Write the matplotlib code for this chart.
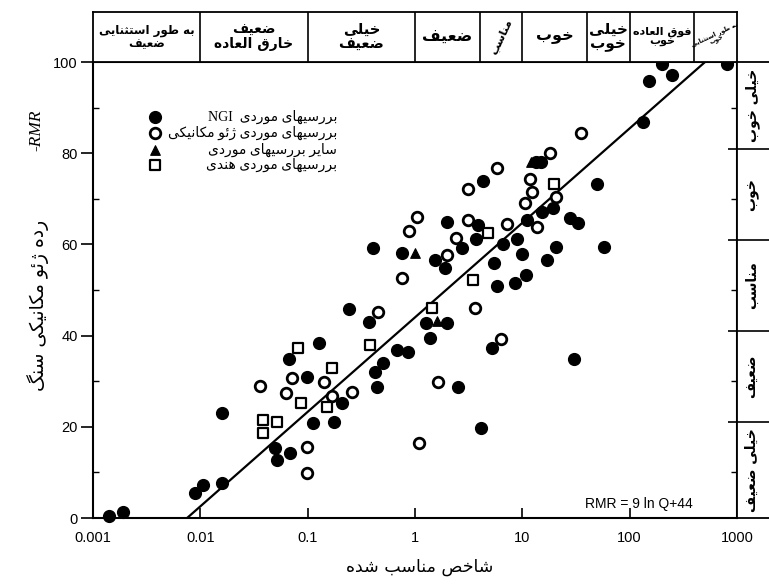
import numpy as np
import matplotlib
matplotlib.use("Agg")
from matplotlib import pyplot as plt
from matplotlib.ticker import NullLocator

# --- data ---
# NGI case records (filled circles)
ngi_q = [0.0014, 0.0019, 0.009, 0.0106, 0.016, 0.016, 0.05, 0.069, 0.052, 0.112,
         0.176, 0.21, 0.099, 0.067, 0.128, 0.243, 0.373, 0.41, 0.76, 0.68,
         0.86, 0.50, 0.42, 0.44, 1.27, 2.0, 1.38, 5.2, 2.5, 4.1,
         30, 1.54, 1.9, 2.0, 3.9, 3.7, 2.75, 4.3, 5.5, 5.8,
         8.6, 10.8, 6.6, 9.0, 10, 11.1, 17, 15.3, 19.4, 20.7,
         28, 33, 50, 58, 13.5, 15, 134, 152, 200, 250, 810]
ngi_rmr = [0.5, 1.3, 5.5, 7.2, 7.7, 23, 15.4, 14.3, 12.7, 20.8,
           21.1, 25.2, 30.9, 34.9, 38.4, 45.8, 43.0, 59.2, 58.1, 36.8,
           36.4, 34.0, 32.0, 28.7, 42.8, 42.8, 39.5, 37.3, 28.7, 19.7,
           34.9, 56.6, 54.8, 64.9, 64.3, 61.2, 59.2, 73.9, 55.9, 50.9,
           51.5, 53.3, 60.1, 61.2, 57.9, 65.4, 56.6, 67.1, 68.0, 59.4,
           65.8, 64.7, 73.2, 59.4, 78.1, 78.1, 86.8, 95.8, 99.5, 97.1, 99.5]
# geomechanics case records (open circles)
geo_q = [0.036, 0.072, 0.063, 0.142, 0.26, 0.17, 0.099, 0.099, 0.45, 0.76,
         1.09, 1.64, 3.6, 6.3, 2.0, 0.88, 1.05, 2.4, 3.1, 3.1,
         5.8, 7.2, 13.7, 10.6, 12.3, 11.8, 20.7, 18.2, 35]
geo_rmr = [28.9, 30.7, 27.4, 29.8, 27.6, 26.8, 15.6, 9.9, 45.2, 52.6,
           16.4, 29.8, 46.1, 39.3, 57.7, 62.9, 66.0, 61.4, 65.4, 72.1,
           76.8, 64.5, 63.8, 69.1, 71.5, 74.3, 70.4, 80.0, 84.4]
# other case records (triangles)
other_q = [1.0, 12.1, 1.6]
other_rmr = [58.1, 78.1, 43.2]
# Indian case records (open squares)
india_q = [0.082, 0.38, 0.17, 0.087, 0.15, 0.038, 0.052, 0.038, 1.44, 3.5, 4.8, 19.8]
india_rmr = [37.3, 37.9, 32.9, 25.2, 24.3, 21.5, 21.1, 18.6, 46.1, 52.2, 62.5, 73.2]

# fitted line RMR = a ln Q + b
fit_a, fit_b = 9, 44

q_ticks = [0.001, 0.01, 0.1, 1, 10, 100, 1000]
q_tick_labels = ['0.001', '0.01', '0.1', '1', '10', '100', '1000']
rmr_ticks = [0, 20, 40, 60, 80, 100]

q_bounds = [0.001, 0.01, 0.1, 1, 4, 10, 40, 100, 400, 1000]
q_classes = [["به طور استثنایی", "ضعیف"], ["ضعیف", "خارق العاده"], ["خیلی", "ضعیف"],
             ["ضعیف"], ["مناسب"], ["خوب"], ["خیلی", "خوب"], ["فوق العاده", "خوب"],
             ["به طور استثنایی", "خوب"]]
rmr_bounds = [0, 21, 41, 61, 81, 100]
rmr_classes = ["خیلی ضعیف", "ضعیف", "مناسب", "خوب", "خیلی خوب"]

legend_labels = ["بررسیهای موردی", "بررسیهای موردی ژئو مکانیکی",
                 "سایر بررسیهای موردی", "بررسیهای موردی هندی"]

# --- simple arabic/persian shaping (matplotlib has no text shaping) ---
FORMS = {
    'ا': ('\uFE8D', '\uFE8E', None, None), 'آ': ('\uFE81', '\uFE82', None, None),
    'ب': ('\uFE8F', '\uFE90', '\uFE91', '\uFE92'), 'پ': ('\uFB56', '\uFB57', '\uFB58', '\uFB59'),
    'ت': ('\uFE95', '\uFE96', '\uFE97', '\uFE98'), 'ث': ('\uFE99', '\uFE9A', '\uFE9B', '\uFE9C'),
    'ج': ('\uFE9D', '\uFE9E', '\uFE9F', '\uFEA0'), 'چ': ('\uFB7A', '\uFB7B', '\uFB7C', '\uFB7D'),
    'ح': ('\uFEA1', '\uFEA2', '\uFEA3', '\uFEA4'), 'خ': ('\uFEA5', '\uFEA6', '\uFEA7', '\uFEA8'),
    'د': ('\uFEA9', '\uFEAA', None, None), 'ذ': ('\uFEAB', '\uFEAC', None, None),
    'ر': ('\uFEAD', '\uFEAE', None, None), 'ز': ('\uFEAF', '\uFEB0', None, None),
    'ژ': ('\uFB8A', '\uFB8B', None, None),
    'س': ('\uFEB1', '\uFEB2', '\uFEB3', '\uFEB4'), 'ش': ('\uFEB5', '\uFEB6', '\uFEB7', '\uFEB8'),
    'ص': ('\uFEB9', '\uFEBA', '\uFEBB', '\uFEBC'), 'ض': ('\uFEBD', '\uFEBE', '\uFEBF', '\uFEC0'),
    'ط': ('\uFEC1', '\uFEC2', '\uFEC3', '\uFEC4'), 'ظ': ('\uFEC5', '\uFEC6', '\uFEC7', '\uFEC8'),
    'ع': ('\uFEC9', '\uFECA', '\uFECB', '\uFECC'), 'غ': ('\uFECD', '\uFECE', '\uFECF', '\uFED0'),
    'ف': ('\uFED1', '\uFED2', '\uFED3', '\uFED4'), 'ق': ('\uFED5', '\uFED6', '\uFED7', '\uFED8'),
    'ک': ('\uFB8E', '\uFB8F', '\uFB90', '\uFB91'), 'گ': ('\uFB92', '\uFB93', '\uFB94', '\uFB95'),
    'ل': ('\uFEDD', '\uFEDE', '\uFEDF', '\uFEE0'), 'م': ('\uFEE1', '\uFEE2', '\uFEE3', '\uFEE4'),
    'ن': ('\uFEE5', '\uFEE6', '\uFEE7', '\uFEE8'), 'و': ('\uFEED', '\uFEEE', None, None),
    'ه': ('\uFEE9', '\uFEEA', '\uFEEB', '\uFEEC'), 'ی': ('\uFBFC', '\uFBFD', '\uFBFE', '\uFBFF'),
    'ئ': ('\uFE89', '\uFE8A', '\uFE8B', '\uFE8C'), 'ء': ('\uFE80', None, None, None),
}


def shape(text):
    # pick contextual forms, then reverse to visual order
    out = []
    n = len(text)
    for i, c in enumerate(text):
        f = FORMS.get(c)
        if f is None:
            out.append(c)
            continue
        prev = text[i - 1] if i > 0 else ''
        nxt = text[i + 1] if i < n - 1 else ''
        jp = prev in FORMS and FORMS[prev][2] is not None and f[1] is not None
        jn = nxt in FORMS and f[2] is not None and FORMS[nxt][1] is not None
        if jp and jn:
            out.append(f[3])
        elif jp:
            out.append(f[1])
        elif jn:
            out.append(f[2])
        else:
            out.append(f[0])
    return ''.join(reversed(out))


plt.rcParams['font.family'] = ['DejaVu Sans']
num_font = ['Liberation Sans', 'DejaVu Sans']

W, H = 769, 585
fig = plt.figure(figsize=(W / 100, H / 100), dpi=100)
ax = fig.add_axes([93 / W, 67 / H, 644 / W, 456 / H])
ax.set_xscale('log')
ax.set_xlim(0.001, 1000)
ax.set_ylim(0, 100)

# fitted line
q_line = np.logspace(np.log10(np.exp(-fit_b / fit_a)), np.log10(np.exp((100 - fit_b) / fit_a)), 60)
ax.plot(q_line, fit_a * np.log(q_line) + fit_b, color='black', lw=1.6, zorder=2)

styles = [
    dict(marker='o', s=72, facecolors='black', edgecolors='black', linewidths=1.0),
    dict(marker='o', s=58, facecolors='white', edgecolors='black', linewidths=2.0),
    dict(marker='^', s=48, facecolors='black', edgecolors='black', linewidths=0.8),
    dict(marker='s', s=62, facecolors='white', edgecolors='black', linewidths=1.6),
]
series = [(ngi_q, ngi_rmr), (geo_q, geo_rmr), (other_q, other_rmr), (india_q, india_rmr)]
for (qq, rr), st in zip(series, styles):
    ax.scatter(qq, rr, zorder=3, clip_on=False, **st)

# axes styling
for sp in ax.spines.values():
    sp.set_linewidth(1.5)
ax.set_xticks(q_ticks)
ax.set_xticklabels(q_tick_labels, family=num_font, fontsize=10.5)
ax.xaxis.set_minor_locator(NullLocator())
ax.tick_params(axis='x', direction='in', length=7, width=1.2, pad=9)
ax.set_yticks(rmr_ticks)
ax.set_yticklabels([str(v) for v in rmr_ticks], family=num_font, fontsize=10.5)
ax.set_yticks([10, 30, 50, 70, 90], minor=True)
ax.tick_params(axis='y', which='major', direction='out', length=9, width=1.2, pad=2)
ax.tick_params(axis='y', which='minor', direction='in', length=4, width=1.0, right=True)

# legend (markers column, right-aligned text)
leg_y = [0.879, 0.844, 0.807, 0.774]
for i, st in enumerate(styles):
    ax.scatter([0.096], [leg_y[i]], transform=ax.transAxes, zorder=3, **st)
    txt = shape(legend_labels[i])
    if i == 0:
        txt = "NGI  " + txt
    ax.text(0.379, leg_y[i], txt, transform=ax.transAxes, ha='right', va='center',
            fontsize=10, family=['Liberation Serif', 'DejaVu Sans'])

ax.text(0.764, 0.03, "RMR = 9 ln Q+44", transform=ax.transAxes, ha='left', va='center',
        fontsize=10, family=num_font)

# top band with Q classes
ax_t = fig.add_axes([93 / W, 523 / H, 644 / W, 50 / H])
ax_t.set_xscale('log')
ax_t.set_xlim(0.001, 1000)
ax_t.set_ylim(0, 1)
ax_t.set_xticks([])
ax_t.set_yticks([])
ax_t.xaxis.set_minor_locator(NullLocator())
for sp in ax_t.spines.values():
    sp.set_linewidth(1.3)
ax_t.vlines(q_bounds[1:-1], 0, 1, color='black', lw=1.2)
top_sizes = [8.5, 10, 10.5, 11.5, 8, 11.5, 11, 8, 4.5]
top_rot = [0, 0, 0, 0, 65, 0, 0, 0, 25]
for i, lines in enumerate(q_classes):
    xc = np.sqrt(q_bounds[i] * q_bounds[i + 1])
    ax_t.text(xc, 0.5, "\n".join(shape(s) for s in lines), ha='center', va='center',
              multialignment='center', fontsize=top_sizes[i], fontweight='bold',
              rotation=top_rot[i], linespacing=1.0)

# right band with RMR classes
ax_r = fig.add_axes([737 / W, 67 / H, 40 / W, 456 / H])
ax_r.set_xlim(0, 1)
ax_r.set_ylim(0, 100)
ax_r.set_xticks([])
ax_r.set_yticks([])
for sp in ax_r.spines.values():
    sp.set_linewidth(1.3)
ax_r.hlines(rmr_bounds[1:-1], -0.22, 1, color='black', lw=1.2, clip_on=False)
for i, name in enumerate(rmr_classes):
    yc = (rmr_bounds[i] + rmr_bounds[i + 1]) / 2
    ax_r.text(0.38, yc, shape(name), ha='center', va='center', rotation=90,
              fontsize=10, fontweight='bold')

# axis titles
fig.text(420 / W, 1 - 567 / H, shape("شاخص مناسب شده"), ha='center', va='center', fontsize=12.5)
fig.text(38 / W, 1 - 305 / H, shape("رده ژئو مکانیکی سنگ"), ha='center', va='center',
         rotation=90, fontsize=13.5)
fig.text(36 / W, 1 - 130 / H, "-RMR", ha='center', va='center', rotation=90, fontsize=12.5,
         style='italic', family=['Liberation Serif', 'DejaVu Serif'])

fig.savefig("out.png", dpi=100)
